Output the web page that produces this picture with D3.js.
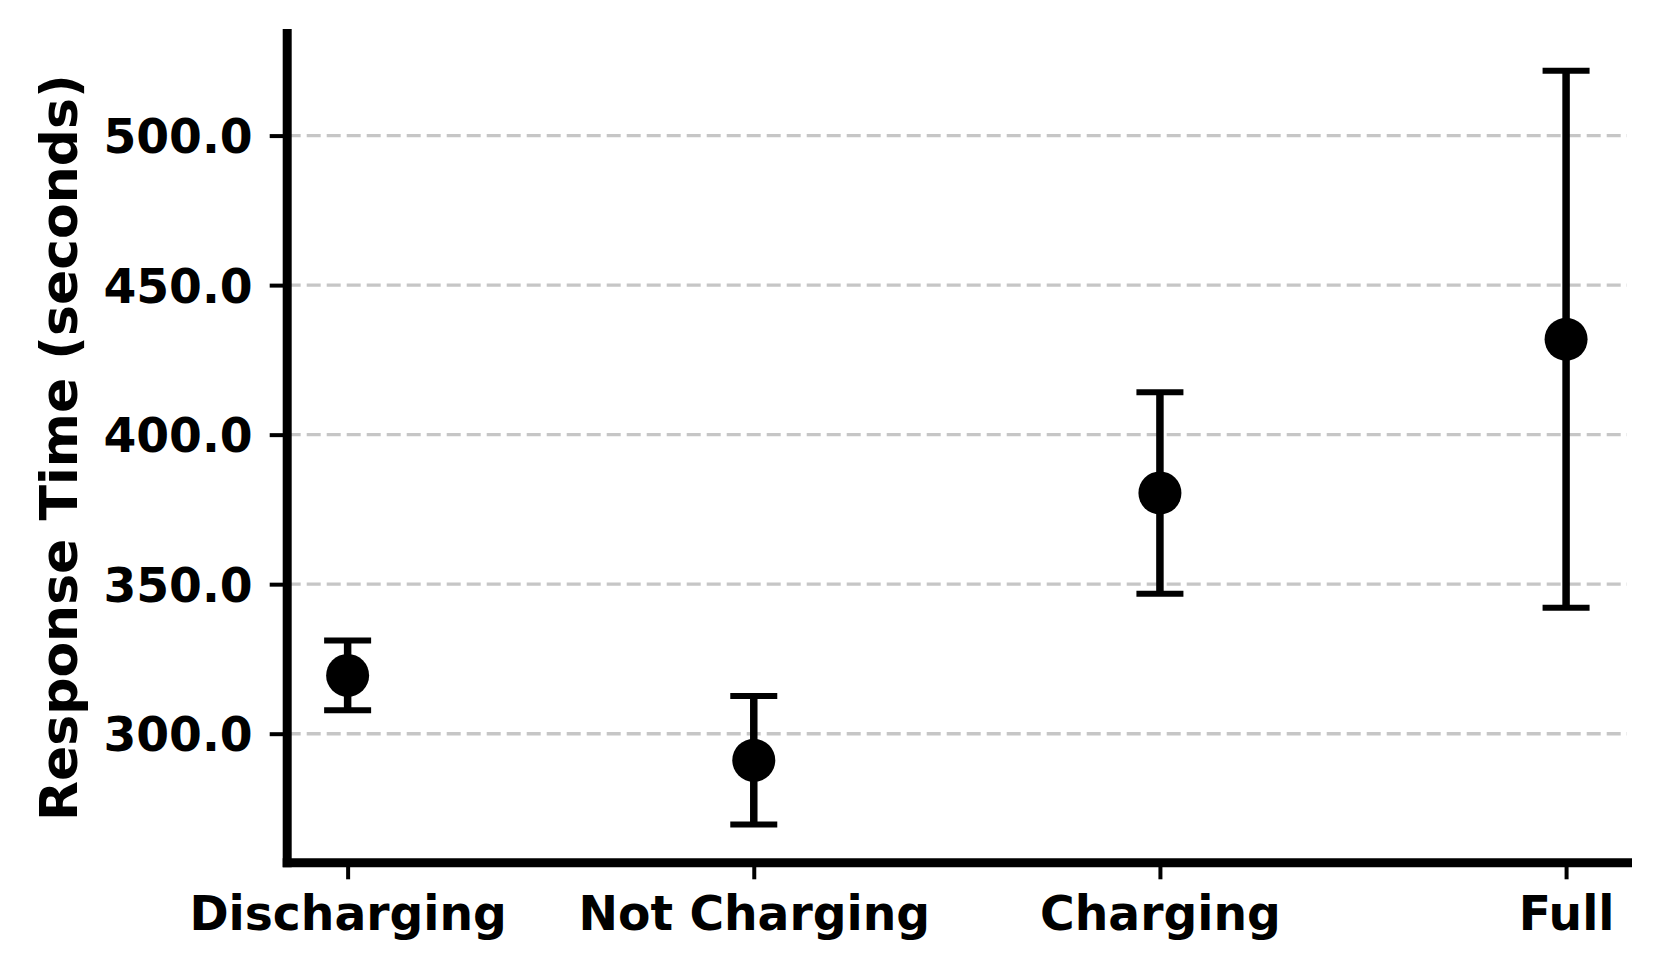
<!DOCTYPE html>
<html>
<head>
<meta charset="utf-8">
<script src="https://cdn.jsdelivr.net/npm/d3@7"></script>
<style>
  body { margin: 0; background: #fff; }
  text { font-family: "DejaVu Sans", sans-serif; font-weight: bold; }
</style>
</head>
<body>
<script>
// Data
var states = ["Discharging", "Not Charging", "Charging", "Full"];
var meanTime = [319.5, 291.1, 380.5, 431.9];
var errTime = [11.7, 21.5, 33.7, 89.8];
var yTicks = [300, 350, 400, 450, 500];

var width = 1659, height = 976;
var margin = {left: 286.7, right: 32, top: 33, bottom: 113.7};
var innerW = width - margin.left - margin.right,
    innerH = height - margin.top - margin.bottom;

var svg = d3.select("body")
    .append("svg")
    .attr("width", width)
    .attr("height", height)
    .append("g")
    .attr("transform", "translate(" + margin.left + "," + margin.top + ")");

// x is a point axis with matplotlib-like 5% padding
var x = d3.scaleLinear()
    .domain([-0.15, states.length - 1 + 0.15])
    .range([0, innerW]);

var lo = d3.min(meanTime.map(function(d, i) { return d - errTime[i]; })),
    hi = d3.max(meanTime.map(function(d, i) { return d + errTime[i]; })),
    pad = (hi - lo) * 0.05;
var y = d3.scaleLinear()
    .domain([lo - pad, hi + pad])
    .range([innerH, 0]);

// Grid lines
svg.append("g")
    .selectAll("line")
    .data(yTicks)
    .enter().append("line")
    .attr("x1", 0)
    .attr("x2", innerW)
    .attr("y1", function(d) { return y(d); })
    .attr("y2", function(d) { return y(d); })
    .attr("stroke", "#c6c6c6")
    .attr("stroke-width", 3.4)
    .attr("stroke-dasharray", "14 6");

// Axes
var xAxis = svg.append("g")
    .attr("transform", "translate(0," + innerH + ")")
    .call(d3.axisBottom(x)
        .tickValues(d3.range(states.length))
        .tickFormat(function(i) { return states[i]; })
        .tickSizeInner(17)
        .tickSizeOuter(0)
        .tickPadding(17));

var yAxis = svg.append("g")
    .call(d3.axisLeft(y)
        .tickValues(yTicks)
        .tickFormat(d3.format(".1f"))
        .tickSizeInner(17)
        .tickSizeOuter(0)
        .tickPadding(17));

[xAxis, yAxis].forEach(function(g) {
    g.select(".domain")
        .attr("stroke", "#000")
        .attr("stroke-width", 9)
        .attr("stroke-linecap", "square");
    g.selectAll(".tick line")
        .attr("stroke", "#000")
        .attr("stroke-width", 4);
    g.selectAll(".tick text")
        .attr("fill", "#000")
        .style("font-size", "47.2px");
});
yAxis.selectAll(".tick text").attr("dy", "0.36em");

// Y label
svg.append("text")
    .attr("transform", "translate(" + (58 - margin.left) + "," + (innerH / 2) + ") rotate(-90)")
    .attr("text-anchor", "middle")
    .attr("dy", "0.36em")
    .attr("fill", "#000")
    .style("font-size", "52px")
    .text("Response Time (seconds)");

// Error bars
var bars = svg.append("g")
    .selectAll("g")
    .data(states)
    .enter().append("g");

bars.append("line")
    .attr("x1", function(d, i) { return x(i); })
    .attr("x2", function(d, i) { return x(i); })
    .attr("y1", function(d, i) { return y(meanTime[i] - errTime[i]); })
    .attr("y2", function(d, i) { return y(meanTime[i] + errTime[i]); })
    .attr("stroke", "#000")
    .attr("stroke-width", 7.5);

bars.selectAll(".cap")
    .data(function(d, i) { return [[i, meanTime[i] - errTime[i]], [i, meanTime[i] + errTime[i]]]; })
    .enter().append("line")
    .attr("class", "cap")
    .attr("x1", function(d) { return x(d[0]) - 23.5; })
    .attr("x2", function(d) { return x(d[0]) + 23.5; })
    .attr("y1", function(d) { return y(d[1]); })
    .attr("y2", function(d) { return y(d[1]); })
    .attr("stroke", "#000")
    .attr("stroke-width", 6);

bars.append("circle")
    .attr("cx", function(d, i) { return x(i); })
    .attr("cy", function(d, i) { return y(meanTime[i]); })
    .attr("r", 21.5)
    .attr("fill", "#000");
</script>
</body>
</html>
